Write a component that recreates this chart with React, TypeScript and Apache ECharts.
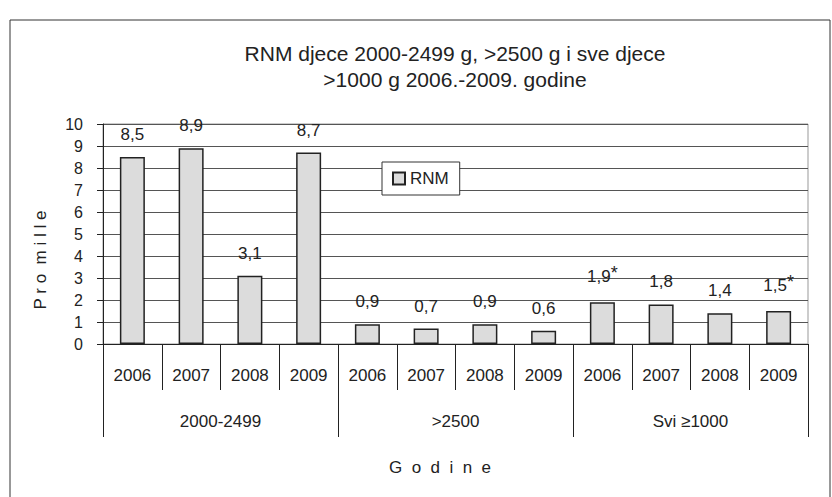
import React, { useEffect, useRef } from "react";
import * as echarts from "echarts";

const years = ["2006", "2007", "2008", "2009", "2006", "2007", "2008", "2009", "2006", "2007", "2008", "2009"];
const groups = ["2000-2499", ">2500", "Svi ≥1000"];
const rnm = [8.5, 8.9, 3.1, 8.7, 0.9, 0.7, 0.9, 0.6, 1.9, 1.8, 1.4, 1.5];
const marks = ["", "", "", "", "", "", "", "", "*", "", "", "*"];
const yTicks = [0, 10, 1];

const FONT = "'Liberation Sans', Arial, Helvetica, sans-serif";
const INK = "#222";

export default function App() {
  const ref = useRef<HTMLDivElement>(null);
  useEffect(() => {
    if (!ref.current) return;
    const chart = echarts.init(ref.current, null, { renderer: "svg" });
    chart.setOption({
      animation: false,
      backgroundColor: "#fff",
      textStyle: { fontFamily: FONT, color: INK },
      title: [
        {
          text: "RNM djece 2000-2499 g, >2500 g i sve djece\n>1000 g 2006.-2009. godine",
          left: 450,
          top: 35,
          textAlign: "center",
          textStyle: { fontFamily: FONT, fontSize: 21, fontWeight: "normal", color: INK, lineHeight: 26 },
        },
        {
          text: "G  o  d  i  n  e",
          left: 435,
          top: 454,
          textAlign: "center",
          textStyle: { fontFamily: FONT, fontSize: 17, fontWeight: "normal", color: INK },
        },
      ],
      legend: {
        left: 382,
        top: 162,
        padding: [8, 11, 8, 10],
        borderColor: "#333",
        borderWidth: 1,
        backgroundColor: "#fff",
        itemWidth: 12,
        itemHeight: 12,
        itemGap: 9,
        icon: "rect",
        textStyle: { fontFamily: FONT, fontSize: 17, color: INK },
        data: ["RNM"],
      },
      graphic: [
        {
          type: "rect",
          shape: { x: 10, y: 20, width: 820, height: 500 },
          style: { fill: "none", stroke: "#333", lineWidth: 1 },
          silent: true,
          z: -1,
        },
        {
          type: "text",
          x: 40,
          y: 260,
          rotation: Math.PI / 2,
          style: {
            text: "P r o  m i l l e",
            fontFamily: FONT,
            fontSize: 17,
            fill: INK,
            align: "center",
            verticalAlign: "middle",
          },
          silent: true,
        },
      ],
      grid: {
        left: 103,
        right: 24,
        top: 124,
        bottom: 153,
        show: true,
        borderColor: "#999",
        borderWidth: 1,
      },
      xAxis: [
        {
          type: "category",
          data: years,
          position: "bottom",
          axisLine: { show: true, lineStyle: { color: INK, width: 1 } },
          axisTick: { show: true, interval: 0, length: 46, lineStyle: { color: INK, width: 1 } },
          axisLabel: { interval: 0, margin: 23, fontFamily: FONT, fontSize: 17, color: INK },
        },
        {
          type: "category",
          data: groups,
          position: "bottom",
          axisLine: { show: false },
          axisTick: { show: true, interval: 0, length: 93, lineStyle: { color: INK, width: 1 } },
          axisLabel: { interval: 0, margin: 69, fontFamily: FONT, fontSize: 17, color: INK },
        },
      ],
      yAxis: {
        type: "value",
        min: yTicks[0],
        max: yTicks[1],
        interval: yTicks[2],
        axisLine: { show: true, lineStyle: { color: INK, width: 1 } },
        axisTick: { show: true, length: 6, lineStyle: { color: INK } },
        axisLabel: { margin: 20, fontFamily: FONT, fontSize: 16, color: INK },
        splitLine: { show: true, lineStyle: { color: "#555", width: 1 } },
      },
      series: [
        {
          name: "RNM",
          type: "bar",
          xAxisIndex: 0,
          data: rnm,
          barWidth: 25,
          itemStyle: { color: "#dcdcdc", borderColor: INK, borderWidth: 1.5 },
          label: {
            show: true,
            position: "top",
            distance: 14,
            fontFamily: FONT,
            fontSize: 17,
            color: INK,
            formatter: (p: any) => {
              const v = String(rnm[p.dataIndex].toFixed(1)).replace(".", ",");
              const m = marks[p.dataIndex];
              return m ? `{v|${v}}{s|${m}}` : `{v|${v}}`;
            },
            rich: {
              v: { fontFamily: FONT, fontSize: 17, color: INK },
              s: { fontFamily: FONT, fontSize: 18, color: INK, padding: [0, 0, 6, 0] },
            },
          },
        },
      ],
    });
    return () => chart.dispose();
  }, []);
  return (
    <div
      ref={ref}
      style={{ position: "absolute", left: 0, top: 0, width: 832, height: 497 }}
    />
  );
}
